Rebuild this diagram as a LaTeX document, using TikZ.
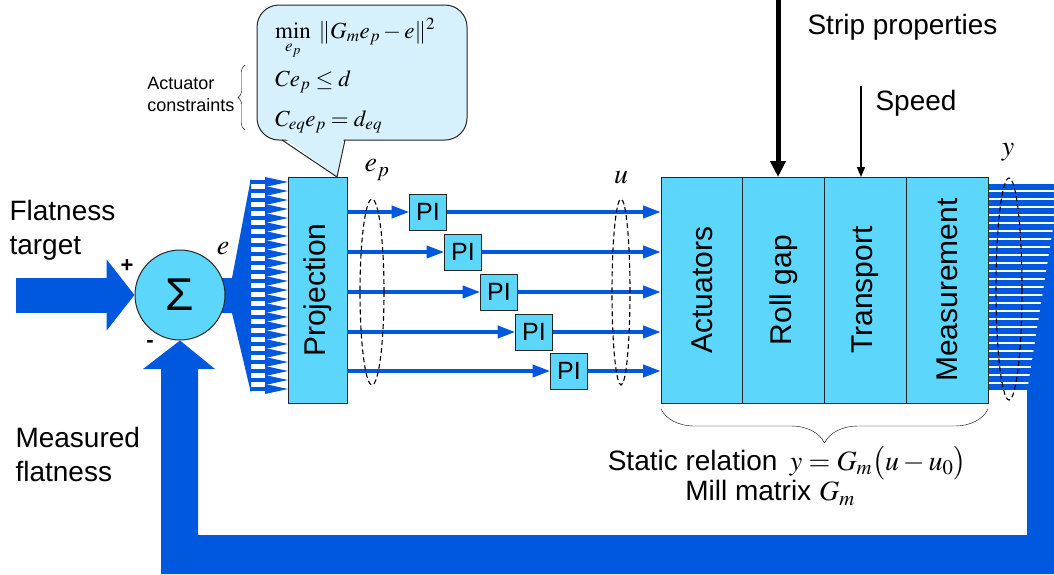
\documentclass[tikz,border=0pt]{standalone}
\usepackage{mathptmx}
\usepackage[no-math]{fontspec}
\setmainfont{Liberation Sans}
\usepackage{tikz}
\usetikzlibrary{positioning,arrows.meta,shapes.geometric,calc,decorations.pathreplacing}
\definecolor{flowblue}{RGB}{0,88,222}
\definecolor{boxcyan}{RGB}{92,214,250}
\definecolor{calloutbg}{RGB}{214,240,252}
\colorlet{edgegray}{black!85}

\begin{document}
\begin{tikzpicture}[x=1pt,y=-1pt,every node/.style={font=\fontsize{28}{34}\selectfont},
    block/.style={draw=edgegray,fill=boxcyan,line width=1pt,inner sep=0pt,outer sep=0pt},
    cell/.style={block,minimum width=81.75,minimum height=226},
    pibox/.style={block,minimum width=37,minimum height=36,font=\fontsize{25}{30}\selectfont},
    sig/.style={flowblue,line width=4pt,-{Triangle[length=18pt,width=12pt]}},
    grp/.style={draw,ellipse,dash pattern=on 5pt off 3pt,line width=1.1pt,inner sep=0pt},
    vlabel/.style={rotate=90,font=\fontsize{30}{34}\selectfont},
    qpline/.style={anchor=west,inner sep=1pt,font=\fontsize{23}{26}\selectfont}]
  \useasboundingbox (0,0) rectangle (1054,574);
  % fan from the sum into the projection
  \fill[flowblue] (222,278) -- (232,278) -- (251,178) -- (251,393) -- (232,313) -- (222,313) -- cycle;
  \foreach \k in {0,...,23} {
    \fill[flowblue] (250,{182+9*\k-2}) rectangle (268,{182+9*\k+2});
    \fill[flowblue] (265,{182+9*\k-5}) -- (288,{182+9*\k}) -- (265,{182+9*\k+5}) -- cycle;
  }
  \node[circle,draw=edgegray,fill=boxcyan,line width=1pt,minimum size=90,inner sep=0pt,font=\fontsize{46}{46}\selectfont] (sum) at (180,295) {Σ};
  \coordinate (tgt) at (16,295);
  \draw[flowblue,line width=35pt,-{Triangle[length=28pt,width=70pt]}] (tgt) -- (sum.west);
  % measured y and feedback band
  \foreach \k in {0,...,25}
    \fill[flowblue] (988,{187+8*\k-2.6}) rectangle (1054,{187+8*\k+2.6});
  \fill[flowblue] (1054,222) -- (1027,392) -- (1027,535) -- (198,535) -- (198,369) -- (215,369) -- (sum.south)
    -- (143,369) -- (161,369) -- (161,574) -- (1054,574) -- cycle;
  % blocks
  \node[block,minimum width=59,minimum height=226,label={[vlabel]center:Projection}] (proj) at (317.5,290) {};
  \node[cell,label={[vlabel]center:Actuators}] (act) at (701.9,290) {};
  \node[cell,right=0pt of act,label={[vlabel]center:Roll gap}] (gap) {};
  \node[cell,right=0pt of gap,label={[vlabel]center:Transport}] (trn) {};
  \node[cell,right=0pt of trn,label={[vlabel]center:Measurement}] (meas) {};
  \foreach \i/\px/\py in {1/428/212,2/463/252,3/499/292,4/534/332,5/569/371} {
    \node[pibox] (pi\i) at (\px,\py) {PI};
    \draw[sig] (proj.east |- pi\i) -- (pi\i);
    \draw[sig] (pi\i) -- (act.west |- pi\i);
  }
  \node[grp,minimum width=24,minimum height=186] (epgrp) at (372,292) {};
  \node[grp,minimum width=18,minimum height=186] (ugrp) at (621,292) {};
  \node[grp,minimum width=26,minimum height=222] (ygrp) at (1009,289) {};
  % disturbances
  \coordinate (strip) at (778,0);
  \coordinate (spd) at (861,86);
  \draw[line width=5pt,-{Triangle[length=16pt,width=15pt]}] (strip) -- (strip |- gap.north);
  \draw[line width=1.5pt,-{Triangle[length=10pt,width=8pt]}] (spd) -- (spd |- trn.north);
  \node[anchor=west] (striptxt) at (804,27) {Strip properties};
  \node[anchor=west] (spdtxt) at (872,103) {Speed};
  % optimisation callout
  \node[draw=edgegray,fill=calloutbg,rounded corners=22pt,line width=1pt,minimum width=210,minimum height=135] (qp) at (362,72.5) {};
  \coordinate (tip) at (337,177);
  \fill[calloutbg] (283,137) -- (tip) -- (344,137) -- cycle;
  \draw[edgegray,line width=1pt] (282,140) -- (tip) -- (345,140);
  \node[qpline] (obj) at (274,39) {$\min\limits_{e_p}\;\| G_m e_p - e \|^2$};
  \node[qpline] (ineq) at (274,82) {$C e_p \le d$};
  \node[qpline] (eqc) at (274,122) {$C_{eq} e_p = d_{eq}$};
  \node[anchor=east,align=left,font=\fontsize{18}{22}\selectfont] (acon) at (238,94) {Actuator\\constraints};
  \draw[decorate,decoration={brace,amplitude=7pt}] (245,130) -- (245,65);
  % labels
  \node[anchor=west,align=left] (target) at (6,230) {Flatness\\target};
  \node[anchor=west,align=left] (measured) at (12,454) {Measured\\flatness};
  \node[font=\fontsize{22}{22}\selectfont\bfseries] (plus) at (127,266) {+};
  \node[font=\fontsize{22}{22}\selectfont\bfseries] (minus) at (150,344) {-};
  \node (elbl) at (223,249) {$e$};
  \node (eplbl) at (377,170) {$e_p$};
  \node (ulbl) at (621,178) {$u$};
  \node (ylbl) at (1008,152) {$y$};
  \draw[decorate,decoration={brace,mirror,amplitude=34pt}] ($(act.south west)+(0,6)$) -- ($(meas.south east)+(0,6)$);
  \node (stat) at (787,463) {Static relation\, $y = G_m\big(u - u_0\big)$};
  \node (mill) at (770,493) {Mill matrix $G_m$};
\end{tikzpicture}
\end{document}
